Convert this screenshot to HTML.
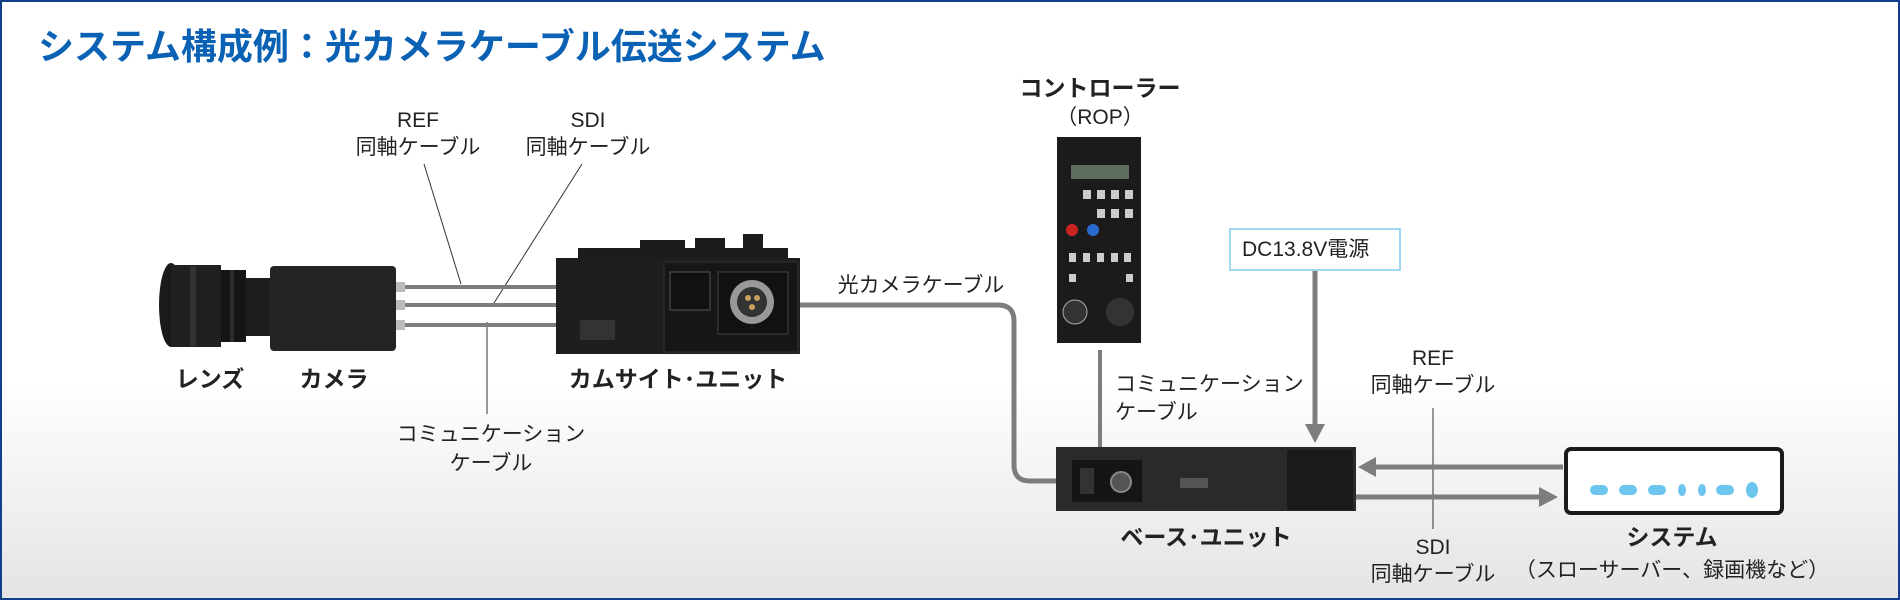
<!DOCTYPE html>
<html><head><meta charset="utf-8"><style>
html,body{margin:0;padding:0}
body{width:1900px;height:600px;overflow:hidden;position:relative;font-family:"Liberation Sans","Noto Sans CJK JP",sans-serif;}
#bg{position:absolute;left:0;top:0;width:1896px;height:596px;border:2px solid #123f8c;background:linear-gradient(to bottom,#fff 0,#fff 380px,#e4e4e4 596px);}
.t{position:absolute;color:#222;font-size:21px;white-space:nowrap;transform:translateX(-50%);line-height:1;}
.l{position:absolute;color:#222;font-size:21px;white-space:nowrap;line-height:1;}
.b{font-size:23px;font-weight:bold;}
#title{position:absolute;left:38px;top:18px;font-size:36px;font-weight:bold;color:#0b62b4;white-space:nowrap;letter-spacing:0px;font-family:"Liberation Sans","Noto Sans CJK JP",sans-serif;}
svg{position:absolute;left:0;top:0}
</style></head><body>
<div id="bg"></div>
<svg width="1900" height="600" viewBox="0 0 1900 600">
<defs>
<marker id="ah" markerWidth="6" markerHeight="6" refX="3" refY="3" orient="auto" markerUnits="strokeWidth"><path d="M0,0 L6,3 L0,6 z" fill="#7a7a7a"/></marker>
</defs>
<!-- thin label lines -->
<line x1="424" y1="164" x2="461" y2="284" stroke="#333" stroke-width="1"/>
<line x1="582" y1="164" x2="494" y2="303" stroke="#333" stroke-width="1"/>
<line x1="487" y1="322" x2="487" y2="414" stroke="#333" stroke-width="1"/>
<line x1="1433" y1="408" x2="1433" y2="529" stroke="#333" stroke-width="1"/>
<!-- cables camera-camsite -->
<g stroke="#7d7d7d" stroke-width="4">
<line x1="405" y1="287" x2="556" y2="287"/>
<line x1="405" y1="305" x2="556" y2="305"/>
<line x1="405" y1="325" x2="556" y2="325"/>
</g>
<g fill="#bbb"><rect x="396" y="282" width="9" height="10"/><rect x="396" y="300" width="9" height="10"/><rect x="396" y="320" width="9" height="10"/></g>
<!-- optical cable -->
<path d="M800,305 H998 Q1014,305 1014,321 V465 Q1014,481 1030,481 H1056" fill="none" stroke="#7d7d7d" stroke-width="5"/>
<!-- comm line controller-base -->
<line x1="1100" y1="350" x2="1100" y2="447" stroke="#7d7d7d" stroke-width="4"/>
<!-- DC arrow -->
<line x1="1315" y1="270" x2="1315" y2="425" stroke="#7d7d7d" stroke-width="5"/>
<path d="M1305,424 L1325,424 L1315,443 z" fill="#7d7d7d"/>
<!-- REF arrow -->
<line x1="1563" y1="467" x2="1375" y2="467" stroke="#7d7d7d" stroke-width="5"/>
<path d="M1376,457 L1376,477 L1358,467 z" fill="#7d7d7d"/>
<!-- SDI arrow -->
<line x1="1356" y1="497" x2="1540" y2="497" stroke="#7d7d7d" stroke-width="5"/>
<path d="M1539,487 L1539,507 L1558,497 z" fill="#7d7d7d"/>
<!-- lens -->
<ellipse cx="171" cy="305" rx="12" ry="42" fill="#1a1a1a"/>
<rect x="171" y="265" width="50" height="82" fill="#202020"/>
<rect x="190" y="266" width="6" height="80" fill="#333"/>
<rect x="221" y="270" width="25" height="72" fill="#151515"/>
<rect x="230" y="270" width="4" height="72" fill="#2c2c2c"/>
<rect x="246" y="278" width="24" height="58" fill="#1d1d1d"/>
<!-- camera -->
<rect x="270" y="266" width="126" height="85" rx="4" fill="#242424"/>
<!-- camsite unit -->
<rect x="578" y="248" width="210" height="14" fill="#1c1c1c"/>
<rect x="640" y="240" width="45" height="10" fill="#1c1c1c"/>
<rect x="695" y="238" width="30" height="12" fill="#1c1c1c"/>
<rect x="743" y="234" width="20" height="14" fill="#1c1c1c"/>
<rect x="556" y="258" width="244" height="96" fill="#1e1e1e"/>
<rect x="664" y="262" width="134" height="90" fill="#161616" stroke="#333"/>
<rect x="670" y="272" width="40" height="38" fill="#111" stroke="#555"/>
<rect x="718" y="272" width="70" height="62" fill="#111" stroke="#444"/>
<circle cx="752" cy="302" r="22" fill="#999"/><circle cx="752" cy="302" r="15" fill="#333"/>
<circle cx="748" cy="298" r="3" fill="#c8a060"/><circle cx="757" cy="298" r="3" fill="#c8a060"/><circle cx="752" cy="307" r="3" fill="#c8a060"/>
<rect x="580" y="320" width="35" height="20" fill="#333"/>
<!-- controller -->
<rect x="1057" y="137" width="84" height="206" fill="#1b1b1b"/>
<rect x="1071" y="165" width="58" height="14" fill="#5e6f60"/>
<g fill="#ccc"><rect x="1083" y="190" width="8" height="9"/><rect x="1097" y="190" width="8" height="9"/><rect x="1111" y="190" width="8" height="9"/><rect x="1125" y="190" width="8" height="9"/>
<rect x="1097" y="209" width="8" height="9"/><rect x="1111" y="209" width="8" height="9"/><rect x="1125" y="209" width="8" height="9"/>
<rect x="1069" y="253" width="7" height="9"/><rect x="1083" y="253" width="7" height="9"/><rect x="1097" y="253" width="7" height="9"/><rect x="1111" y="253" width="7" height="9"/><rect x="1124" y="253" width="7" height="9"/>
<rect x="1069" y="274" width="7" height="8"/><rect x="1126" y="274" width="7" height="8"/></g>
<circle cx="1072" cy="230" r="6" fill="#c22"/><circle cx="1093" cy="230" r="6" fill="#2a6ad0"/>
<circle cx="1075" cy="312" r="12" fill="#333" stroke="#aaa"/><circle cx="1120" cy="312" r="14" fill="#333"/>
<!-- DC box -->
<rect x="1230" y="229" width="170" height="41" fill="#fff" stroke="#9fd6f2" stroke-width="2"/>
<!-- base unit -->
<rect x="1056" y="447" width="300" height="64" fill="#2a2a2a"/>
<rect x="1072" y="460" width="70" height="42" fill="#151515"/>
<rect x="1080" y="468" width="14" height="26" fill="#333"/>
<circle cx="1121" cy="482" r="10" fill="#555" stroke="#888" stroke-width="2"/>
<rect x="1287" y="450" width="66" height="60" fill="#1a1a1a"/>
<rect x="1180" y="478" width="28" height="10" fill="#555"/>
<!-- system -->
<rect x="1566" y="449" width="216" height="64" rx="5" fill="#fff" stroke="#1a1a1a" stroke-width="4"/>
<g fill="#6cc6ee">
<rect x="1590" y="485" width="18" height="10" rx="5"/><rect x="1619" y="485" width="18" height="10" rx="5"/><rect x="1648" y="485" width="18" height="10" rx="5"/>
<ellipse cx="1682" cy="490" rx="4" ry="6"/><ellipse cx="1702" cy="490" rx="4" ry="6"/>
<rect x="1716" y="485" width="18" height="10" rx="5"/><ellipse cx="1752" cy="490" rx="6" ry="8"/></g>
</svg>
<div id="title">システム構成例：光カメラケーブル伝送システム</div>
<div class="t" style="left:418px;top:110px">REF</div>
<div class="t" style="left:418px;top:137px">同軸ケーブル</div>
<div class="t" style="left:588px;top:110px">SDI</div>
<div class="t" style="left:588px;top:137px">同軸ケーブル</div>
<div class="t b" style="left:210px;top:368px">レンズ</div>
<div class="t b" style="left:334px;top:368px">カメラ</div>
<div class="t b" style="left:678px;top:368px">カムサイト･ユニット</div>
<div class="t" style="left:491px;top:424px">コミュニケーション</div>
<div class="t" style="left:491px;top:453px">ケーブル</div>
<div class="t" style="left:921px;top:275px">光カメラケーブル</div>
<div class="t b" style="left:1100px;top:77px">コントローラー</div>
<div class="t" style="left:1100px;top:107px">（ROP）</div>
<div class="l" style="left:1242px;top:239px">DC13.8V電源</div>
<div class="l" style="left:1115px;top:374px">コミュニケーション</div>
<div class="l" style="left:1115px;top:402px">ケーブル</div>
<div class="t" style="left:1433px;top:348px">REF</div>
<div class="t" style="left:1433px;top:375px">同軸ケーブル</div>
<div class="t b" style="left:1206px;top:526px">ベース･ユニット</div>
<div class="t" style="left:1433px;top:537px">SDI</div>
<div class="t" style="left:1433px;top:564px">同軸ケーブル</div>
<div class="t b" style="left:1672px;top:526px">システム</div>
<div class="t" style="left:1672px;top:560px">（スローサーバー、録画機など）</div>
</body></html>
